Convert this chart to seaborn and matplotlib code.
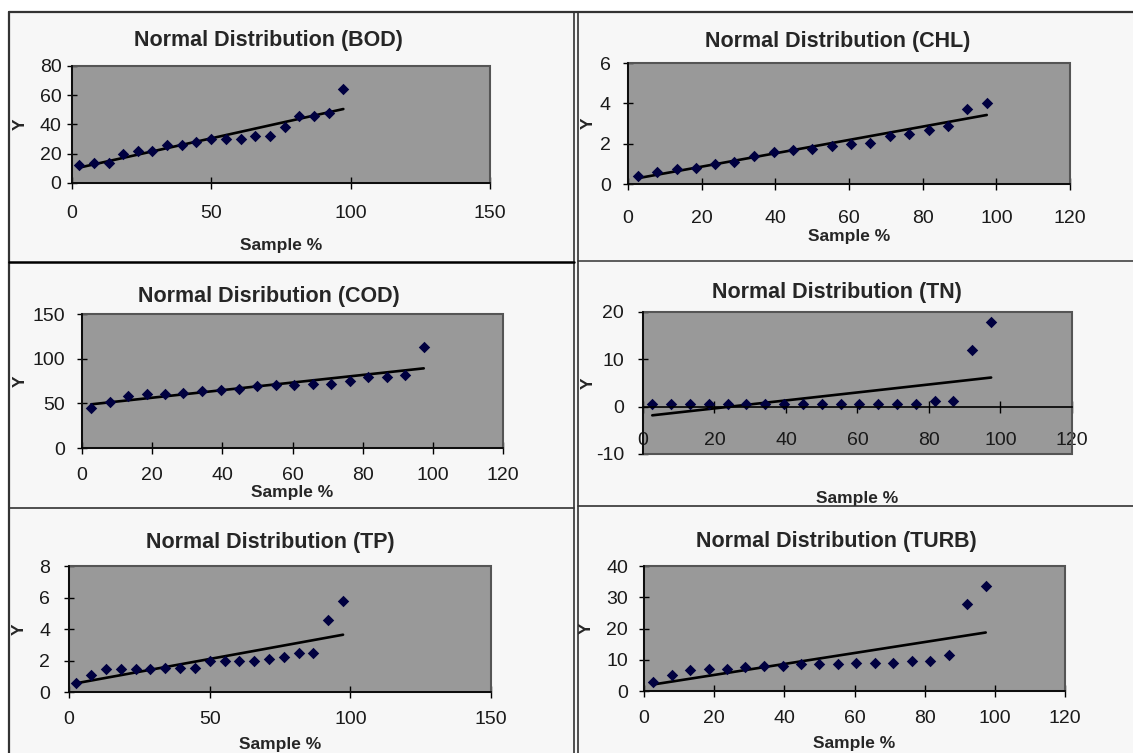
import numpy as np
import pandas as pd
import seaborn as sns
import matplotlib.pyplot as plt
from matplotlib.lines import Line2D
from matplotlib.patches import Rectangle

sns.set_style('white')
plt.rcParams['font.family'] = ['Liberation Sans', 'DejaVu Sans']
plt.rcParams['axes.unicode_minus'] = False

# plotting position of each sample (%)
sample_pct = [2.6, 7.9, 13.2, 18.4, 23.7, 28.9, 34.2, 39.5, 44.7, 50.0,
              55.3, 60.5, 65.8, 71.1, 76.3, 81.6, 86.8, 92.1, 97.4]

bod = [12, 14, 14, 20, 22, 22, 26, 26, 28, 30, 30, 30, 32, 32, 38, 46, 46, 48, 64]
chl = [0.4, 0.6, 0.75, 0.8, 1.0, 1.1, 1.4, 1.6, 1.7, 1.75, 1.9, 2.0, 2.05, 2.4,
       2.5, 2.7, 2.9, 3.7, 4.0]
cod = [45, 51, 58, 60, 60, 62, 64, 65, 66, 69, 70, 70, 72, 72, 75, 79, 79, 82, 113]
tn = [0.6, 0.6, 0.6, 0.6, 0.6, 0.6, 0.6, 0.6, 0.6, 0.6, 0.6, 0.6, 0.6, 0.6,
      0.6, 1.1, 1.1, 11.9, 17.9]
tp = [0.6, 1.1, 1.45, 1.45, 1.45, 1.45, 1.55, 1.55, 1.55, 2.0, 2.0, 2.0, 2.0,
      2.1, 2.2, 2.5, 2.5, 4.6, 5.8]
turb = [3, 5, 6.8, 7.2, 7.2, 7.8, 8, 8, 8.6, 8.6, 8.6, 9, 9, 9, 9.5, 9.5, 11.5,
        28, 33.5]

titles = ['Normal Distribution (BOD)', 'Normal Distribution (CHL)',
          'Normal Disribution (COD)', 'Normal Distribution (TN)',
          'Normal Distribution (TP)', 'Normal Distribution (TURB)']
series = [bod, chl, cod, tn, tp, turb]
x_ticks = [[0, 50, 100, 150], [0, 20, 40, 60, 80, 100, 120],
           [0, 20, 40, 60, 80, 100, 120], [0, 20, 40, 60, 80, 100, 120],
           [0, 50, 100, 150], [0, 20, 40, 60, 80, 100, 120]]
y_ticks = [[0, 20, 40, 60, 80], [0, 2, 4, 6], [0, 50, 100, 150],
           [-10, 0, 10, 20], [0, 2, 4, 6, 8], [0, 10, 20, 30, 40]]

# layout: axes rect (fig frac), title (x, y), xlabel y, ylabel x, xpad, ypad
layout = [
    ([0.0635, 0.7570, 0.3689, 0.1554], (0.471, 1.214), -0.47, -0.105, 11, 4),
    ([0.5543, 0.7556, 0.3901, 0.1607], (0.475, 1.182), -0.372, -0.072, 14, 9),
    ([0.0724, 0.4050, 0.3716, 0.1780], (0.444, 1.134), -0.276, -0.128, 9, 9),
    ([0.5675, 0.3971, 0.3786, 0.1886], (0.452, 1.134), -0.26, -0.11, 14, 10),
    ([0.0609, 0.0810, 0.3725, 0.1673], (0.476, 1.19), -0.357, -0.1, 9, 10),
    ([0.5684, 0.0823, 0.3716, 0.1660], (0.458, 1.2), -0.36, -0.119, 9, 8),
]

fig = plt.figure(figsize=(11.33, 7.53), dpi=100, facecolor='white')
fig.add_artist(Rectangle((9 / 1133, 0), 1, 1 - 12 / 753, transform=fig.transFigure,
                         facecolor='#f7f7f7', edgecolor='none', zorder=-10))

# panel frame lines
line_kw = dict(transform=fig.transFigure, color='#333333')
fig.add_artist(Line2D([9 / 1133, 1], [1 - 12 / 753] * 2, lw=1.6, **line_kw))
fig.add_artist(Line2D([9 / 1133] * 2, [0, 1 - 12 / 753], lw=1.6, **line_kw))
fig.add_artist(Line2D([573.5 / 1133] * 2, [0, 1 - 12 / 753], lw=1.2, **line_kw))
fig.add_artist(Line2D([577.5 / 1133] * 2, [0, 1 - 12 / 753], lw=1.2, **line_kw))
fig.add_artist(Line2D([9 / 1133, 573.5 / 1133], [1 - 261.5 / 753] * 2, lw=1.8, color='black',
                      transform=fig.transFigure))
fig.add_artist(Line2D([577.5 / 1133, 1], [1 - 261 / 753] * 2, lw=1.1, **line_kw))
fig.add_artist(Line2D([9 / 1133, 573.5 / 1133], [1 - 507.5 / 753] * 2, lw=1.2, **line_kw))
fig.add_artist(Line2D([577.5 / 1133, 1], [1 - 505.5 / 753] * 2, lw=1.2, **line_kw))

for title, vals, xt, yt, lay in zip(titles, series, x_ticks, y_ticks, layout):
    rect, tpos, xl_y, yl_x, xpad, ypad = lay
    ax = fig.add_axes(rect)
    ax.set_facecolor('#999999')
    df = pd.DataFrame({'Sample %': sample_pct, 'Y': vals})
    sns.regplot(data=df, x='Sample %', y='Y', scatter=False, ci=None, color='black',
                line_kws={'lw': 1.9}, ax=ax)
    sns.scatterplot(data=df, x='Sample %', y='Y', marker='D', s=34, color='#000040',
                    linewidth=0, ax=ax, zorder=3)
    ax.set_xlim(xt[0], xt[-1])
    ax.set_ylim(yt[0], yt[-1])
    ax.set_xticks(xt)
    ax.set_yticks(yt)

    for s in ['top', 'right']:
        ax.spines[s].set_visible(False)
    for s in ['left', 'bottom']:
        ax.spines[s].set_color('black')
        ax.spines[s].set_linewidth(1.2)
        ax.spines[s].set_zorder(4)
    ax.add_patch(Rectangle((0, 0), 1, 1, transform=ax.transAxes, fill=False,
                           edgecolor='#555555', lw=1.5, clip_on=False, zorder=2.5))
    if yt[0] < 0:
        ax.spines['bottom'].set_position(('data', 0))

    ax.tick_params(axis='x', direction='inout', length=9, width=1, pad=xpad,
                   labelsize=14, labelcolor='#1a1a1a', color='black', bottom=True)
    ax.tick_params(axis='y', direction='inout', length=7, width=1, pad=ypad,
                   labelsize=14, labelcolor='#1a1a1a', color='black', left=True)

    ax.set_xlabel('Sample %', fontsize=12.5, fontweight='bold')
    ax.set_ylabel('Y', fontsize=12.5, fontweight='bold')
    ax.xaxis.set_label_coords(0.5, xl_y)
    ax.yaxis.set_label_coords(yl_x, 0.5)
    ax.text(tpos[0], tpos[1], title, transform=ax.transAxes, ha='center', va='center',
            fontsize=15.5, fontweight='bold')

fig.savefig('out.png', dpi=100, facecolor=fig.get_facecolor())
